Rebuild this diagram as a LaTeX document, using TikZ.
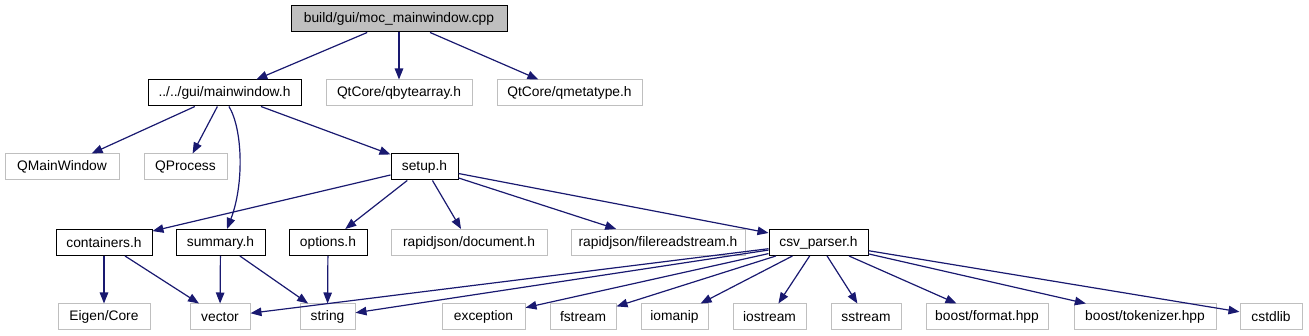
\documentclass[tikz,border=0pt]{standalone}
\usepackage{fontspec}
\setmainfont{Liberation Sans}
\usetikzlibrary{arrows.meta}
\definecolor{edgeblue}{HTML}{191970}
\definecolor{boxgray}{HTML}{BFBFBF}
\begin{document}
\begin{tikzpicture}[x=1pt,y=-1pt,
  box/.style={draw,line width=1pt,minimum height=26pt,inner sep=0pt,
    font=\fontsize{13.8}{16}\selectfont},
  src/.style={box,fill=boxgray,draw=black},
  own/.style={box,draw=black},
  ext/.style={box,draw=boxgray},
  dep/.style={draw=edgeblue,line width=1.2pt,-{Triangle[length=11pt,width=8.5pt]}}]
  \useasboundingbox (0,0) rectangle (1309,336);

  % Source file
  \node[src,minimum width=216pt] (moc) at (399,19) {build/gui/moc\_mainwindow.cpp};

  % First level
  \node[own,minimum width=153pt] (mainwindow) at (224.5,93) {../../gui/mainwindow.h};
  \node[ext,minimum width=146pt] (qbytearray) at (399,93) {QtCore/qbytearray.h};
  \node[ext,minimum width=145pt] (qmetatype) at (569.5,93) {QtCore/qmetatype.h};

  % Second level
  \node[ext,minimum width=114pt] (qmainwindow) at (62,167) {QMainWindow};
  \node[ext,minimum width=83pt] (qprocess) at (185.5,167) {QProcess};
  \node[own,minimum width=67pt] (setup) at (424.5,167) {setup.h};

  % Third level
  \node[own,minimum width=96pt] (containers) at (104,242.5) {containers.h};
  \node[own,minimum width=89pt] (summary) at (220.5,242.5) {summary.h};
  \node[own,minimum width=78pt] (options) at (328,242.5) {options.h};
  \node[ext,minimum width=156pt] (rjdocument) at (469,242.5) {rapidjson/document.h};
  \node[ext,minimum width=174pt] (rjstream) at (658,242.5) {rapidjson/filereadstream.h};
  \node[own,minimum width=99pt] (csvparser) at (818.5,242.5) {csv\_parser.h};

  % System headers
  \node[ext,minimum width=92pt] (eigen) at (104,317) {Eigen/Core};
  \node[ext,minimum width=60pt] (vector) at (220,317) {vector};
  \node[ext,minimum width=55pt] (string) at (327.5,317) {string};
  \node[ext,minimum width=83pt] (exception) at (483.5,317) {exception};
  \node[ext,minimum width=66pt] (fstream) at (583,317) {fstream};
  \node[ext,minimum width=67pt] (iomanip) at (674.5,317) {iomanip};
  \node[ext,minimum width=73pt] (iostream) at (769.5,317) {iostream};
  \node[ext,minimum width=70pt] (sstream) at (866,317) {sstream};
  \node[ext,minimum width=122pt] (bformat) at (987,317) {boost/format.hpp};
  \node[ext,minimum width=142pt] (btokenizer) at (1145,317) {boost/tokenizer.hpp};
  \node[ext,minimum width=62pt] (cstdlib) at (1271,317) {cstdlib};

  % Includes
  \foreach \a/\b in {moc/mainwindow, moc/qbytearray, moc/qmetatype,
      mainwindow/qmainwindow, mainwindow/qprocess, mainwindow/setup,
      setup/containers, setup/options, setup/rjdocument, setup/rjstream, setup/csvparser,
      containers/eigen, containers/vector, summary/vector, summary/string, options/string,
      csvparser/vector, csvparser/string, csvparser/exception, csvparser/fstream,
      csvparser/iomanip, csvparser/iostream, csvparser/sstream, csvparser/bformat,
      csvparser/btokenizer, csvparser/cstdlib}
    \draw[dep] (\a) -- (\b);
  \draw[dep] ([xshift=4.5pt]mainwindow.south) .. controls (243,130) and (244,185) .. ([xshift=6.5pt]summary.north);
\end{tikzpicture}
\end{document}
